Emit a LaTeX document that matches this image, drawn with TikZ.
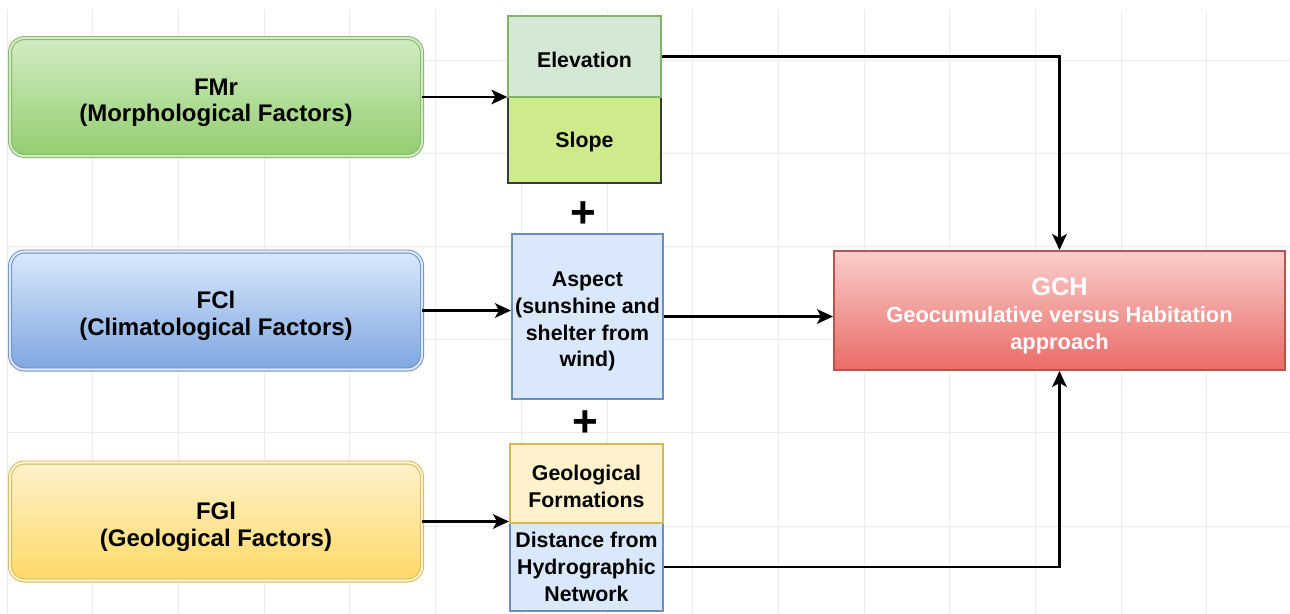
\documentclass[tikz,border=0pt]{standalone}
\usepackage{fontspec}
\setmainfont{Liberation Sans}
\usepackage{xcolor}
\usetikzlibrary{arrows.meta}

\definecolor{gridLine}{HTML}{EBEBEB}
\definecolor{greenLine}{HTML}{82B366}
\definecolor{greenTop}{HTML}{D3EBC3}
\definecolor{greenBot}{HTML}{93CE70}
\definecolor{blueLine}{HTML}{6C8EBF}
\definecolor{blueTop}{HTML}{DAE8FC}
\definecolor{blueBot}{HTML}{7EA6E0}
\definecolor{yellowLine}{HTML}{D6B656}
\definecolor{yellowTop}{HTML}{FFF2CC}
\definecolor{yellowBot}{HTML}{FFD966}
\definecolor{redLine}{HTML}{B85450}
\definecolor{redTop}{HTML}{F8CECC}
\definecolor{redBot}{HTML}{EA6B66}
\definecolor{elevFill}{HTML}{D5E8D4}
\definecolor{slopeFill}{HTML}{CDEB8B}
\definecolor{slopeLine}{HTML}{36393D}

% strut that lowers the text block a little in its box
\newcommand{\lowr}[1]{\rule{0pt}{#1}}

\tikzset{
  factor/.style={rounded corners=11pt, minimum width=309pt, minimum height=88.5pt,
    line width=0.7pt, double distance=1.6pt, align=center, inner sep=0pt,
    font=\fontsize{18}{20}\selectfont\bfseries},
  item/.style={minimum width=114.75pt, align=center, inner sep=0pt, line width=1pt,
    font=\fontsize{16}{20}\selectfont\bfseries},
  plus/.style={inner sep=0pt, font=\fontsize{33}{33}\selectfont\bfseries},
  conn/.style={line width=1.6pt, -{Stealth[length=12pt,width=11pt,inset=3pt]}},
}

\begin{document}
\begin{tikzpicture}[x=0.75pt,y=0.75pt,yscale=-1,xscale=1]
\useasboundingbox (0,0) rectangle (1290,614);

%Grid
\foreach \gx in {0,...,14} \draw[gridLine, line width=0.5pt] ({7+85.7*\gx},10) -- ({7+85.7*\gx},614);
\foreach \gy in {0,...,5} \draw[gridLine, line width=0.5pt] (7,{60+93.2*\gy}) -- (1290,{60+93.2*\gy});

% Factor Nodes
\node[factor, draw=greenLine, double=greenTop, top color=greenTop, bottom color=greenBot] (fmr) at (216,97) {\lowr{21pt}FMr\\(Morphological Factors)};
\node[factor, draw=blueLine, double=blueTop, top color=blueTop, bottom color=blueBot] (fcl) at (216,310.5) {\lowr{21pt}FCl\\(Climatological Factors)};
\node[factor, draw=yellowLine, double=yellowTop, top color=yellowTop, bottom color=yellowBot] (fgl) at (216,521.5) {\lowr{21pt}FGl\\(Geological Factors)};

% Item Nodes
\node[item, minimum height=64.5pt, fill=slopeFill, draw=slopeLine, line width=2pt] (slope) at (584.5,140) {\lowr{14.7pt}Slope};
\node[item, minimum height=60.75pt, fill=elevFill, draw=greenLine] (elev) at (584.5,56.5) {\lowr{16.2pt}Elevation};
\node[plus] (plusa) at (583,215) {+};
\node[item, minimum width=113.25pt, minimum height=123.75pt, fill=blueTop, draw=blueLine, line width=1.5pt] (aspect) at (587.5,316.5) {\lowr{19pt}Aspect\\(sunshine and\\shelter from\\wind)};
\node[plus] (plusb) at (585,424) {+};
\node[item, minimum height=66pt, fill=blueTop, draw=blueLine, line width=1.5pt] (dist) at (586.5,567) {Distance from\\Hydrographic\\Network};
\node[item, minimum height=59.25pt, fill=yellowTop, draw=yellowLine, line width=1.5pt] (geoform) at (586.5,483.5) {\lowr{15.7pt}Geological\\Formations};

% Result Node
\node[minimum width=338.25pt, minimum height=89.25pt, align=center, inner sep=0pt, line width=1.5pt,
  draw=redLine, top color=redTop, bottom color=redBot, text=white,
  font=\fontsize{16.4}{20}\selectfont\bfseries] (gch) at (1059.5,310.5)
  {{\fontsize{19}{20}\selectfont\lowr{21.5pt}GCH}\\Geocumulative versus Habitation\\approach};

%Straight Lines
\draw[conn] (fmr.east) -- (fmr.east -| elev.west);
\draw[conn] (fcl.east) -- (fcl.east -| aspect.west);
\draw[conn] (fgl.east) -- (fgl.east -| geoform.west);
\draw[conn] (elev.east) -| (gch.north);
\draw[conn] (aspect.east) -- (aspect.east -| gch.west);
\draw[conn] (dist.east) -| (gch.south);
\end{tikzpicture}
\end{document}
